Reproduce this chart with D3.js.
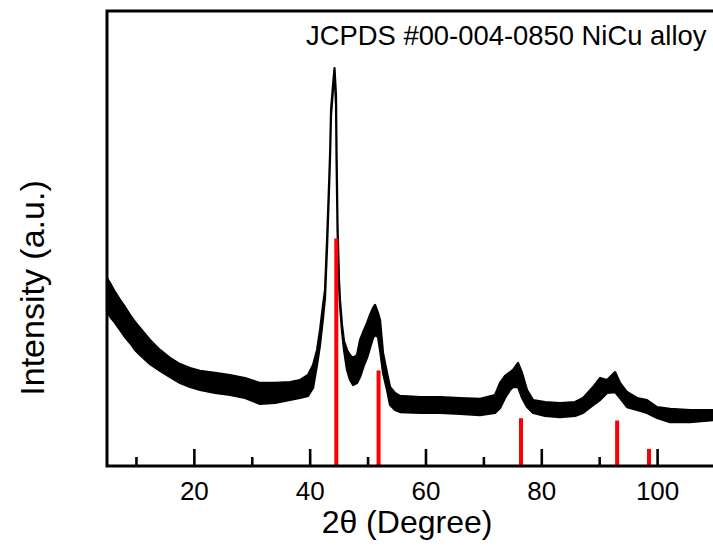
<!DOCTYPE html>
<html><head><meta charset="utf-8">
<script src="https://cdn.jsdelivr.net/npm/d3@7/dist/d3.min.js"></script>
<style>body{margin:0;background:#fff}svg{display:block}</style>
</head><body>
<svg id="c" width="713" height="547"></svg>
<script>
// 2theta (deg) of each sample point
const twoTheta = [5.00,5.69,6.38,7.25,8.11,8.97,9.84,10.70,12.43,14.15,15.88,17.61,19.34,21.06,23.65,26.24,28.83,31.42,34.02,36.61,38.33,39.72,40.58,41.27,41.79,42.31,42.65,43.00,43.34,43.51,43.69,44.03,44.29,44.55,44.64,44.81,45.07,45.24,45.59,45.93,46.45,46.97,47.49,48.18,48.70,49.39,49.91,50.42,50.94,51.29,51.80,52.15,52.67,53.36,53.88,54.74,55.60,59.06,62.51,65.97,69.42,72.01,72.88,73.74,74.60,75.12,75.98,76.68,77.54,78.58,80.65,83.24,85.83,87.21,88.94,90.15,91.36,92.74,93.60,94.81,96.54,98.26,99.99,102.24,105.69,109.66];
// upper edge of the noisy intensity band (a.u.)
const intensityHigh = [82.6,79.6,76.5,73.0,69.9,66.4,63.3,60.7,55.4,51.0,47.5,44.8,43.1,41.8,40.9,40.0,38.7,36.5,36.5,36.9,37.8,40.0,44.4,51.0,59.8,70.8,77.4,99.3,123.5,136.3,156.5,167.5,174.9,163.1,138.9,106.4,81.8,73.0,62.0,54.9,51.0,48.8,47.5,48.8,55.4,59.8,62.9,66.4,69.5,70.8,67.3,64.2,49.7,40.9,34.7,32.1,30.8,30.3,30.3,29.9,29.5,31.2,36.5,39.6,41.3,42.2,45.3,40.9,33.4,29.0,28.1,27.7,28.1,29.9,34.7,38.7,37.8,41.3,36.5,32.5,29.9,29.0,25.9,25.1,24.6,24.6];
// lower edge of the noisy intensity band (a.u.)
const intensityLow = [67.7,65.1,62.9,59.8,56.7,54.1,51.0,48.8,44.8,41.8,39.1,36.5,34.7,33.4,32.1,31.2,29.9,27.3,27.7,29.0,29.9,30.8,34.3,44.4,53.2,65.1,73.8,95.8,121.3,134.5,154.3,165.3,173.2,158.7,134.5,103.7,79.6,70.8,58.9,51.0,42.2,37.8,35.6,36.5,39.1,44.4,47.5,51.9,56.3,57.6,56.7,51.0,40.9,33.4,26.8,24.6,23.7,23.3,23.3,22.9,22.4,23.3,25.5,29.9,33.4,34.7,34.7,29.9,25.9,23.3,22.0,21.5,22.0,23.3,26.8,29.0,32.1,32.5,29.9,25.9,24.6,23.3,21.1,19.3,19.3,20.2];
// JCPDS #00-004-0850 reference lines
const refPos = [44.6,51.9,76.5,93.1,98.6];
const refInt = [100,42,21,20,7.5];
const majorTicks = [20,40,60,80,100];
const minorTicks = [10,30,50,70,90];
const xLabel = "2\u03b8 (Degree)";
const yLabel = "Intensity (a.u.)";
const legendText = "JCPDS #00-004-0850 NiCu alloy";

const svg = d3.select("#c");
const L = 107, R = 715, T = 11, B = 466;
const x = d3.scaleLinear().domain([5,110]).range([L,R]);
const y = d3.scaleLinear().domain([0,200]).range([B,T]);
const font = "'Liberation Sans', Arial, sans-serif";

const pts = twoTheta.map((t,i)=>({t, hi:intensityHigh[i], lo:intensityLow[i]}));
const area = d3.area().x(d=>x(d.t)).y0(d=>y(d.lo)).y1(d=>y(d.hi));
svg.append("path").datum(pts).attr("d",area)
  .attr("fill","#000").attr("stroke","#000").attr("stroke-width",2.2).attr("stroke-linejoin","round");

// reference sticks
svg.append("g").selectAll("line").data(refPos).join("line")
  .attr("x1",d=>x(d)).attr("x2",d=>x(d))
  .attr("y1",y(0)).attr("y2",(d,i)=>y(refInt[i]))
  .attr("stroke","#ff0000").attr("stroke-width",4);

// axes (inward ticks)
const gx = svg.append("g").attr("transform",`translate(0,${B})`)
  .call(d3.axisBottom(x).tickValues(majorTicks).tickSizeInner(-17).tickSizeOuter(0).tickPadding(16).tickFormat(d3.format("d")));
gx.select(".domain").remove();
gx.selectAll(".tick line").attr("stroke","#000").attr("stroke-width",2.6);
gx.selectAll(".tick text").attr("font-family",font).attr("font-size",26).attr("fill","#000").attr("dy","0.71em").attr("y",16);
const gm = svg.append("g").attr("transform",`translate(0,${B})`)
  .call(d3.axisBottom(x).tickValues(minorTicks).tickSizeInner(-9).tickSizeOuter(0).tickFormat(""));
gm.select(".domain").remove();
gm.selectAll(".tick line").attr("stroke","#000").attr("stroke-width",2.6);

// frame
svg.append("path").attr("d",`M${R+5},${T}H${L}V${B}H${R+5}`)
  .attr("fill","none").attr("stroke","#000").attr("stroke-width",3);

svg.append("text").attr("x",(L+R)/2 - 4).attr("y",533).attr("text-anchor","middle")
  .attr("font-family",font).attr("font-size",32).attr("fill","#000").text(xLabel);
svg.append("text").attr("transform","translate(44,288) rotate(-90)").attr("text-anchor","middle")
  .attr("font-family",font).attr("font-size",34).attr("fill","#000").text(yLabel);
svg.append("text").attr("x",306).attr("y",45)
  .attr("font-family",font).attr("font-size",27.4).attr("fill","#000").text(legendText);
</script>
</body></html>
